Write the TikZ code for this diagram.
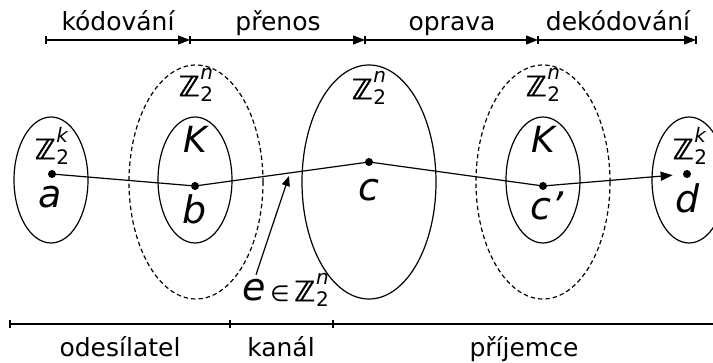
\documentclass[tikz,border=0pt]{standalone}
\usepackage{fontspec}
\setmainfont{DejaVu Sans}
\newfontfamily\zfont[FakeBold=1.6]{DejaVu Sans}
\usepackage{xcolor}
\definecolor{cInk}{HTML}{000000}
\usepackage{tikz}
\usetikzlibrary{positioning,arrows.meta,shapes.geometric}
% Z_2^k style set names, built from plain text boxes
\newcommand{\Zset}[1]{{\zfont ℤ}\kern.03em\rlap{\raisebox{.6em}{\fontsize{10}{11}\selectfont\itshape #1}}%
  \raisebox{-.2em}{\fontsize{10}{11}\selectfont 2}}
\tikzset{
  set-small/.style={draw=cInk,ellipse,line width=0.6pt,minimum width=37pt,minimum height=63pt,inner sep=0},
  set-big/.style={draw=cInk,ellipse,line width=0.6pt,minimum width=67pt,minimum height=117pt,inner sep=0},
  set-code/.style={set-big,dash pattern=on 2.2pt off 1.5pt},
  elem-dot/.style={circle,fill=cInk,inner sep=0,minimum size=4pt},
  elem-name/.style={inner sep=0,font=\fontsize{19}{20}\selectfont\itshape},
  set-name/.style={inner sep=0,font=\fontsize{14}{15}\selectfont},
  step-name/.style={inner sep=0,anchor=base,font=\fontsize{12.5}{14}\selectfont},
  link/.style={line width=0.6pt,draw=cInk},
  link-arrow/.style={link,-{Triangle[length=6pt,width=4.5pt]}},
  scale-arrow/.style={link,-{Triangle[length=6pt,width=4.5pt]}},
}
\begin{document}
\begin{tikzpicture}[x=0.5pt,y=-0.5pt]
  \useasboundingbox (0,0) rectangle (713,363);
  % sets
  \node[set-small] (setA)  at (51,180)  {};
  \node[set-code]  (codeB) at (196,182) {};
  \node[set-small] (setB)  at (195,180) {};
  \node[set-big]   (setC)  at (369,182) {};
  \node[set-code]  (codeC) at (543,182) {};
  \node[set-small] (setCc) at (543,180) {};
  \node[set-small] (setD)  at (689,180) {};
  \node[set-name] (zA)  at (52,146)  {\Zset{k}};
  \node[set-name] (zB)  at (196,85)  {\Zset{n}};
  \node[set-name] (zC)  at (369,88)  {\Zset{n}};
  \node[set-name] (zCc) at (543,85)  {\Zset{n}};
  \node[set-name] (zD)  at (690,146) {\Zset{k}};
  \node[elem-name,font=\fontsize{18}{19}\selectfont\itshape] (kB)  at (195,139) {K};
  \node[elem-name,font=\fontsize{18}{19}\selectfont\itshape] (kCc) at (543,139) {K};
  % elements
  \node[elem-dot] (pa)  at (52,174)  {};
  \node[elem-dot] (pb)  at (195,186) {};
  \node[elem-dot] (pc)  at (369,162) {};
  \node[elem-dot] (pcc) at (543,186) {};
  \node[elem-dot] (pd)  at (687,174) {};
  \node[elem-name] (la)  at (50,197)  {a};
  \node[elem-name] (lb)  at (195,209) {b};
  \node[elem-name] (lc)  at (369,190) {c};
  \node[elem-name] (lcc) at (547,206) {c'};
  \node[elem-name] (ld)  at (688,198) {d};
  \draw[link] (pa.center) -- (pb.center) -- (pc.center) -- (pcc.center);
  \draw[link-arrow,shorten >=5pt] (pcc.center) -- (pd);
  % error
  \node[elem-name] (err) at (254,290) {e};
  \node[set-name,right=2pt of err] (errSet) {{\fontsize{11}{12}\selectfont∈}\,\Zset{n}};
  \coordinate (hit) at (289,176);
  \draw[link,-{Triangle[length=5pt,width=4pt]}] (err.north) ++(2,-4) -- (hit);
  % top scale
  \coordinate (t0) at (46,40);
  \coordinate (t1) at (190,40);
  \coordinate (t2) at (365,40);
  \coordinate (t3) at (538,40);
  \coordinate (t4) at (696,40);
  \foreach \t in {t0,t1,t2,t3,t4}
    \draw[link] (\t) ++(0,-4) -- ++(0,8);
  \draw[scale-arrow] (t0) -- (t1);
  \draw[scale-arrow] (t1) -- (t2);
  \draw[scale-arrow] (t2) -- (t3);
  \draw[scale-arrow] (t3) -- (t4);
  \node[step-name] at (118,31) {kódování};
  \node[step-name] at (278,31) {přenos};
  \node[step-name] at (452,31) {oprava};
  \node[step-name] at (618,31) {dekódování};
  % bottom scale
  \coordinate (b0) at (10,324);
  \coordinate (b1) at (230,324);
  \coordinate (b2) at (333,324);
  \coordinate (b3) at (720,324);
  \foreach \t in {b0,b1,b2}
    \draw[link] (\t) ++(0,-4) -- ++(0,8);
  \draw[link] (b0) -- (b3);
  \node[step-name] at (120,357) {odesílatel};
  \node[step-name] at (281,357) {kanál};
  \node[step-name] at (524,357) {příjemce};
\end{tikzpicture}
\end{document}
